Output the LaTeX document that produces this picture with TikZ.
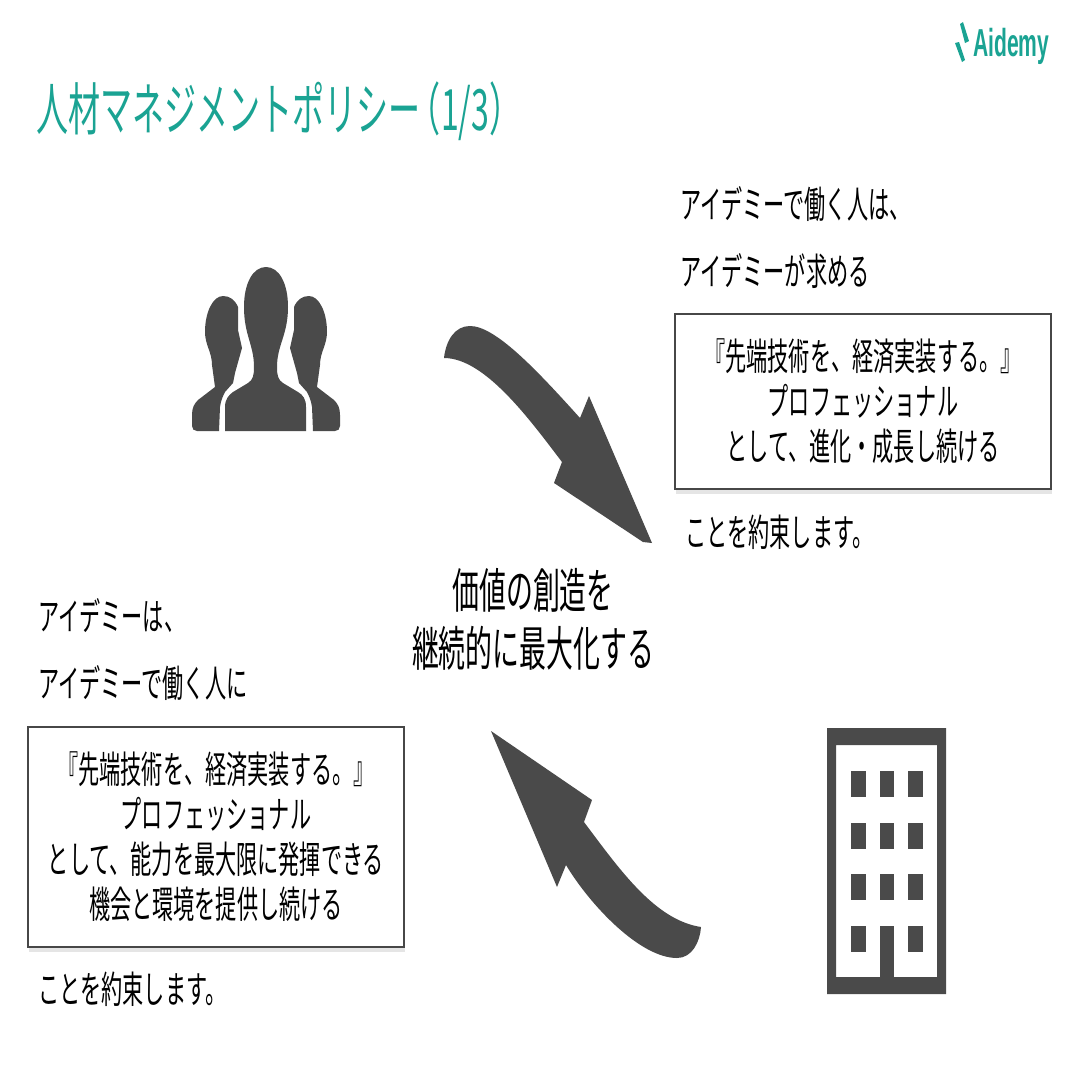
\documentclass[tikz,border=0pt]{standalone}
\usepackage{fontspec}
\setmainfont[FakeStretch=0.5625]{Noto Sans CJK JP}
\newfontfamily\logofont[FakeStretch=0.54]{Liberation Sans}
\usepackage{xcolor}
\usepackage{tikz}
\usetikzlibrary{shadows}
\definecolor{aiteal}{HTML}{1AA393}
\definecolor{icongray}{HTML}{4A4A4A}
\tikzset{
  plain/.style={anchor=west,inner sep=0pt,font=\fontsize{37.6}{45}\selectfont},
  promise/.style={draw=black!72,line width=1.4pt,fill=white,inner sep=0pt,align=center,
    font=\fontsize{37.6}{45}\selectfont,drop shadow={shadow xshift=1pt,shadow yshift=-5pt,opacity=.2}},
  icon/.style={fill=icongray,draw=none}
}

\begin{document}
\begin{tikzpicture}[x=1pt,y=-1pt]
  \useasboundingbox (0,0) rectangle (1066,1066);
  \fill[white] (0,0) rectangle (1066,1066);

  \node[plain,text=aiteal,font=\fontsize{57}{60}\selectfont] (title) at (36,111) {人材マネジメントポリシー\hspace{-12pt}（1/3）};
  \node[anchor=west,inner sep=0pt,text=aiteal,font=\logofont\bfseries\fontsize{39}{42}\selectfont] (logo) at (973,46) {Aidemy};
  \fill[aiteal] (960,24) -- (963,22) -- (969,41) -- (965,43) -- cycle;
  \fill[aiteal] (955,43) -- (959,42) -- (965,60) -- (962,62) -- cycle;

  \node[plain] (staffa) at (680,204) {アイデミーで働く人は、};
  \node[plain] (staffb) at (680,271) {アイデミーが求める};
  \node[promise,minimum width=376pt,minimum height=175pt] (staffbox) at (863,401.5)
    {『先端技術を、経済実装する。』\\プロフェッショナル\\として、進化・成長し続ける};
  \node[plain] (staffc) at (685,532) {ことを約束します。};

  \node[plain] (coa) at (38,616) {アイデミーは、};
  \node[plain] (cob) at (38,683) {アイデミーで働く人に};
  \node[promise,minimum width=376pt,minimum height=220pt] (cobox) at (216,837)
    {『先端技術を、経済実装する。』\\プロフェッショナル\\として、能力を最大限に発揮できる\\機会と環境を提供し続ける};
  \node[plain] (coc) at (38,989) {ことを約束します。};

  \node[inner sep=0pt,align=center,font=\fontsize{47.8}{58}\selectfont] (value) at (533,619) {価値の創造を\\継続的に最大化する};

  % people
  \fill[icon] (225,431) -- (225,407) .. controls (225,399) and (229,395) .. (233,392) -- (248,383)
    .. controls (253,380) and (254,375) .. (254,367) .. controls (254,345) and (244,335) .. (244,307)
    .. controls (244,283) and (253,267) .. (266,267) .. controls (279,267) and (288,283) .. (288,307)
    .. controls (288,335) and (277,345) .. (277,367) .. controls (277,375) and (278,380) .. (283,383)
    -- (298,392) .. controls (303,395) and (306,399) .. (306,407) -- (306,431) -- cycle;
  \foreach \m in {1,-1}{
    \begin{scope}[shift={(266,0)},xscale=\m]
      \fill[icon] (-47,431) -- (-46,407) .. controls (-45,400) and (-43,396) .. (-41,392) -- (-33,383)
        -- (-31,373) -- (-24,348) -- (-28,330) -- (-28,307) .. controls (-31,300) and (-36,296) .. (-43,296)
        .. controls (-53,296) and (-61,312) .. (-61,332) .. controls (-61,345) and (-54,352) .. (-54,365)
        -- (-51,387) -- (-68,400) .. controls (-72,404) and (-74,408) .. (-74,415) -- (-74,426)
        .. controls (-74,429) and (-72,431) .. (-69,431) -- cycle;
    \end{scope}
  }

  % building
  \fill[icon,even odd rule] (827,728) rectangle (946,994) (836,745) rectangle (937,977);
  \foreach \wx in {851,879.5,908}{
    \foreach \wy in {771,823,874,926}{
      \fill[icon] (\wx,\wy) rectangle +(14.5,25.5);
    }
  }
  \fill[icon] (879.5,940) rectangle (894,978);

  % arrows
  \fill[icon] (444,358) .. controls (446,340) and (455,326) .. (470,326)
    .. controls (495,326) and (535,368) .. (580,418) -- (589,396) -- (652,543) -- (643,542)
    -- (554,483) -- (562,462) .. controls (530,420) and (485,358) .. (444,358) -- cycle;
  \fill[icon] (491,731) -- (592,800) -- (584,822) .. controls (620,870) and (655,920) .. (701,927)
    .. controls (700,942) and (692,958) .. (677,958) .. controls (640,958) and (590,905) .. (566,865)
    -- (557,887) -- cycle;
\end{tikzpicture}
\end{document}
